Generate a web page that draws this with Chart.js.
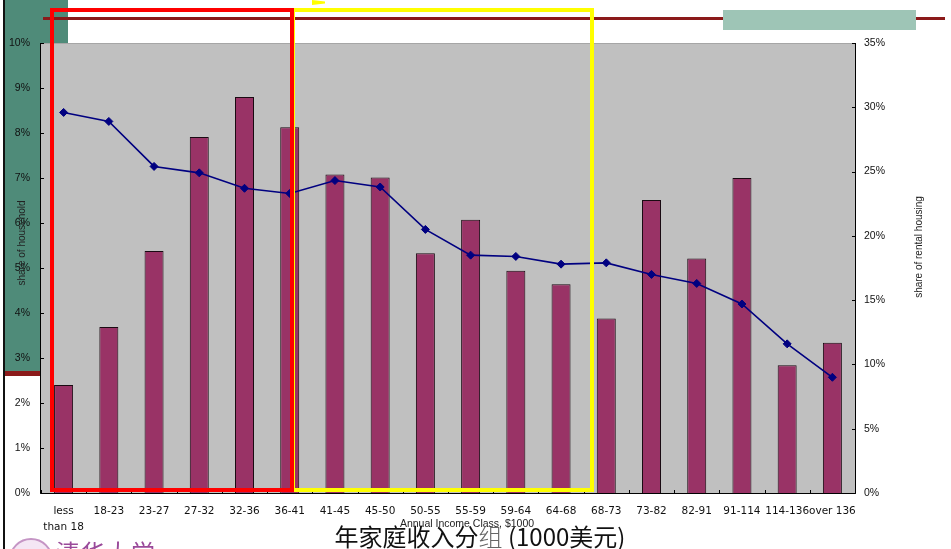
<!DOCTYPE html>
<html>
<head>
<meta charset="utf-8">
<script src="https://cdn.jsdelivr.net/npm/chart.js@4/dist/chart.umd.min.js"></script>
<style>
  html, body { margin: 0; padding: 0; }
  body { width: 951px; height: 549px; overflow: hidden; position: relative; background: #fff; }
  .abs { position: absolute; }
  #teal { left: 5px; top: 0; width: 63px; height: 371px; background: #4f8b79; }
  #tealBand { left: 5px; top: 371px; width: 63px; height: 5px; background: #8b1a1a; }
  #edge { left: 3px; top: 0; width: 2px; height: 549px; background: #111; }
  #topRule { left: 43px; top: 17px; width: 902px; height: 3px; background: #8b1a1a; }
  #tealTab { left: 723px; top: 10px; width: 193px; height: 20px; background: #9ec5b6; }
  #chartBox { left: 0; top: 0; width: 951px; height: 549px; }
  #boxRed { left: 50px; top: 8px; width: 244px; height: 484px; border: 4px solid #ff0000; box-sizing: border-box; }
  #boxYellow { left: 291px; top: 8px; width: 303px; height: 484px; border: 4px solid #ffff00; box-sizing: border-box; }
  #tick { left: 312px; top: 0; width: 13px; height: 5px; background: #ffff00; clip-path: polygon(0 0, 100% 30%, 100% 70%, 0 100%); }
  #title { left: 320px; top: 520px; width: 320px; text-align: center; font: 24px "Noto Sans CJK SC", sans-serif; color: #111; line-height: 32px; white-space: nowrap; }
  #title .thin { color: #666; font-weight: 300; }
  #seal { left: 9px; top: 538px; width: 40px; height: 40px; border-radius: 50%; border: 2px solid #c595c5; background: #f4e6f4; }
  #logo { left: 56px; top: 534px; font: 24px "Noto Sans CJK SC", serif; color: #9a4a9a; letter-spacing: 1px; white-space: nowrap; }
</style>
</head>
<body>
<div id="teal" class="abs"></div>
<div id="tealBand" class="abs"></div>
<div id="edge" class="abs"></div>
<div id="topRule" class="abs"></div>
<div id="tealTab" class="abs"></div>
<div id="chartBox" class="abs"><canvas id="c" width="951" height="549"></canvas></div>
<div id="boxYellow" class="abs"></div>
<div id="boxRed" class="abs"></div>
<div id="tick" class="abs"></div>
<div id="title" class="abs">年家庭收入分<span class="thin">组</span> (1000美元)</div>
<div id="seal" class="abs"></div>
<div id="logo" class="abs">清华大学</div>
<script>
// Income classes (annual household income, $1000)
const incomeClasses = [
  ['less', 'than 18'], '18-23', '23-27', '27-32', '32-36', '36-41',
  '41-45', '45-50', '50-55', '55-59', '59-64', '64-68',
  '68-73', '73-82', '82-91', '91-114', '114-136', 'over 136'
];
// Share of households in each class (%), left axis
const householdShare = [
  2.40, 3.69, 5.38, 7.91, 8.80, 8.13,
  7.08, 7.01, 5.33, 6.07, 4.94, 4.64,
  3.88, 6.51, 5.21, 7.00, 2.84, 3.34
];
// Share of rental housing in each class (%), right axis
const rentalShare = [
  29.6, 28.9, 25.4, 24.9, 23.7, 23.3,
  24.3, 23.8, 20.5, 18.5, 18.4, 17.8,
  17.9, 17.0, 16.3, 14.7, 11.6, 9.0
];
const leftTicks = [0, 1, 2, 3, 4, 5, 6, 7, 8, 9, 10];
const rightTicks = [0, 5, 10, 15, 20, 25, 30, 35];

const tickFont = { family: 'Liberation Sans, Arial, sans-serif', size: 10.5 };

// Grey plot area, framing axes with inward tick marks, and axis titles
const frame = {
  id: 'frame',
  beforeDatasetsDraw(chart) {
    const { ctx, chartArea: a } = chart;
    ctx.save();
    ctx.fillStyle = '#c0c0c0';
    ctx.fillRect(a.left, a.top, a.right - a.left, a.bottom - a.top);
    ctx.fillStyle = '#a6a6a6';
    ctx.fillRect(a.left, a.top, a.right - a.left, 1);
    ctx.restore();
  },
  afterDatasetsDraw(chart) {
    const { ctx, chartArea: a, scales } = chart;
    ctx.save();
    ctx.strokeStyle = '#000';
    ctx.lineWidth = 1;
    ctx.beginPath();
    ctx.moveTo(a.left - 0.5, a.top); ctx.lineTo(a.left - 0.5, a.bottom + 0.5);
    ctx.lineTo(a.right + 0.5, a.bottom + 0.5);
    ctx.moveTo(a.right + 0.5, a.top); ctx.lineTo(a.right + 0.5, a.bottom + 0.5);
    leftTicks.forEach(v => {
      const y = Math.round(scales.y.getPixelForValue(v)) + 0.5;
      ctx.moveTo(a.left - 0.5, y); ctx.lineTo(a.left + 3, y);
    });
    rightTicks.forEach(v => {
      const y = Math.round(scales.y1.getPixelForValue(v)) + 0.5;
      ctx.moveTo(a.right - 3, y); ctx.lineTo(a.right + 0.5, y);
    });
    for (let i = 0; i <= incomeClasses.length; i++) {
      const x = Math.round(scales.x.getPixelForValue(i - 0.5)) + 0.5;
      ctx.moveTo(x, a.bottom - 3); ctx.lineTo(x, a.bottom + 0.5);
    }
    ctx.stroke();

    ctx.fillStyle = '#222';
    ctx.font = '10px "Liberation Sans", Arial, sans-serif';
    ctx.textAlign = 'center';
    ctx.textBaseline = 'middle';
    ctx.save();
    ctx.translate(22, 243); ctx.rotate(-Math.PI / 2);
    ctx.fillText('share of household', 0, 0);
    ctx.restore();
    ctx.save();
    ctx.translate(919, 247); ctx.rotate(-Math.PI / 2);
    ctx.fillText('share of rental housing', 0, 0);
    ctx.restore();
    ctx.font = '10.5px "Liberation Sans", Arial, sans-serif';
    ctx.fillText('Annual Income Class, $1000', 467, 524);
    ctx.restore();
  }
};

new Chart(document.getElementById('c'), {
  data: {
    labels: incomeClasses,
    datasets: [
      {
        type: 'line',
        label: 'share of rental housing',
        data: rentalShare,
        yAxisID: 'y1',
        order: 0,
        borderColor: '#000080',
        backgroundColor: '#000080',
        borderWidth: 1.6,
        pointStyle: 'rectRot',
        pointRadius: 4,
        pointBorderWidth: 1,
        tension: 0
      },
      {
        type: 'bar',
        label: 'share of household',
        data: householdShare,
        yAxisID: 'y',
        order: 1,
        backgroundColor: '#993366',
        borderColor: '#1a0a12',
        borderWidth: 1,
        borderSkipped: 'bottom',
        barPercentage: 0.42,
        categoryPercentage: 1
      }
    ]
  },
  options: {
    responsive: false,
    animation: false,
    layout: { padding: { top: 43, left: 0, right: 0, bottom: 0 } },
    plugins: { legend: { display: false }, tooltip: { enabled: false } },
    scales: {
      x: {
        type: 'category',
        offset: true,
        grid: { display: false },
        border: { display: false },
        ticks: {
          autoSkip: false, maxRotation: 0, minRotation: 0, padding: 2,
          color: '#111',
          font: { family: 'DejaVu Sans, sans-serif', size: 10.5, lineHeight: 1.55 }
        },
        afterFit(s) { s.height = 56; }
      },
      y: {
        position: 'left',
        min: 0, max: 10,
        afterBuildTicks(s) { s.ticks = leftTicks.map(v => ({ value: v })); },
        grid: { display: false },
        border: { display: false },
        ticks: { padding: 3, color: '#111', font: tickFont, callback: v => v + '%' },
        afterFit(s) { s.width = 41; }
      },
      y1: {
        position: 'right',
        min: 0, max: 35,
        afterBuildTicks(s) { s.ticks = rightTicks.map(v => ({ value: v })); },
        grid: { display: false },
        border: { display: false },
        ticks: { padding: 1, color: '#111', font: tickFont, callback: v => v + '%' },
        afterFit(s) { s.width = 96; }
      }
    }
  },
  plugins: [frame]
});
</script>
</body>
</html>
